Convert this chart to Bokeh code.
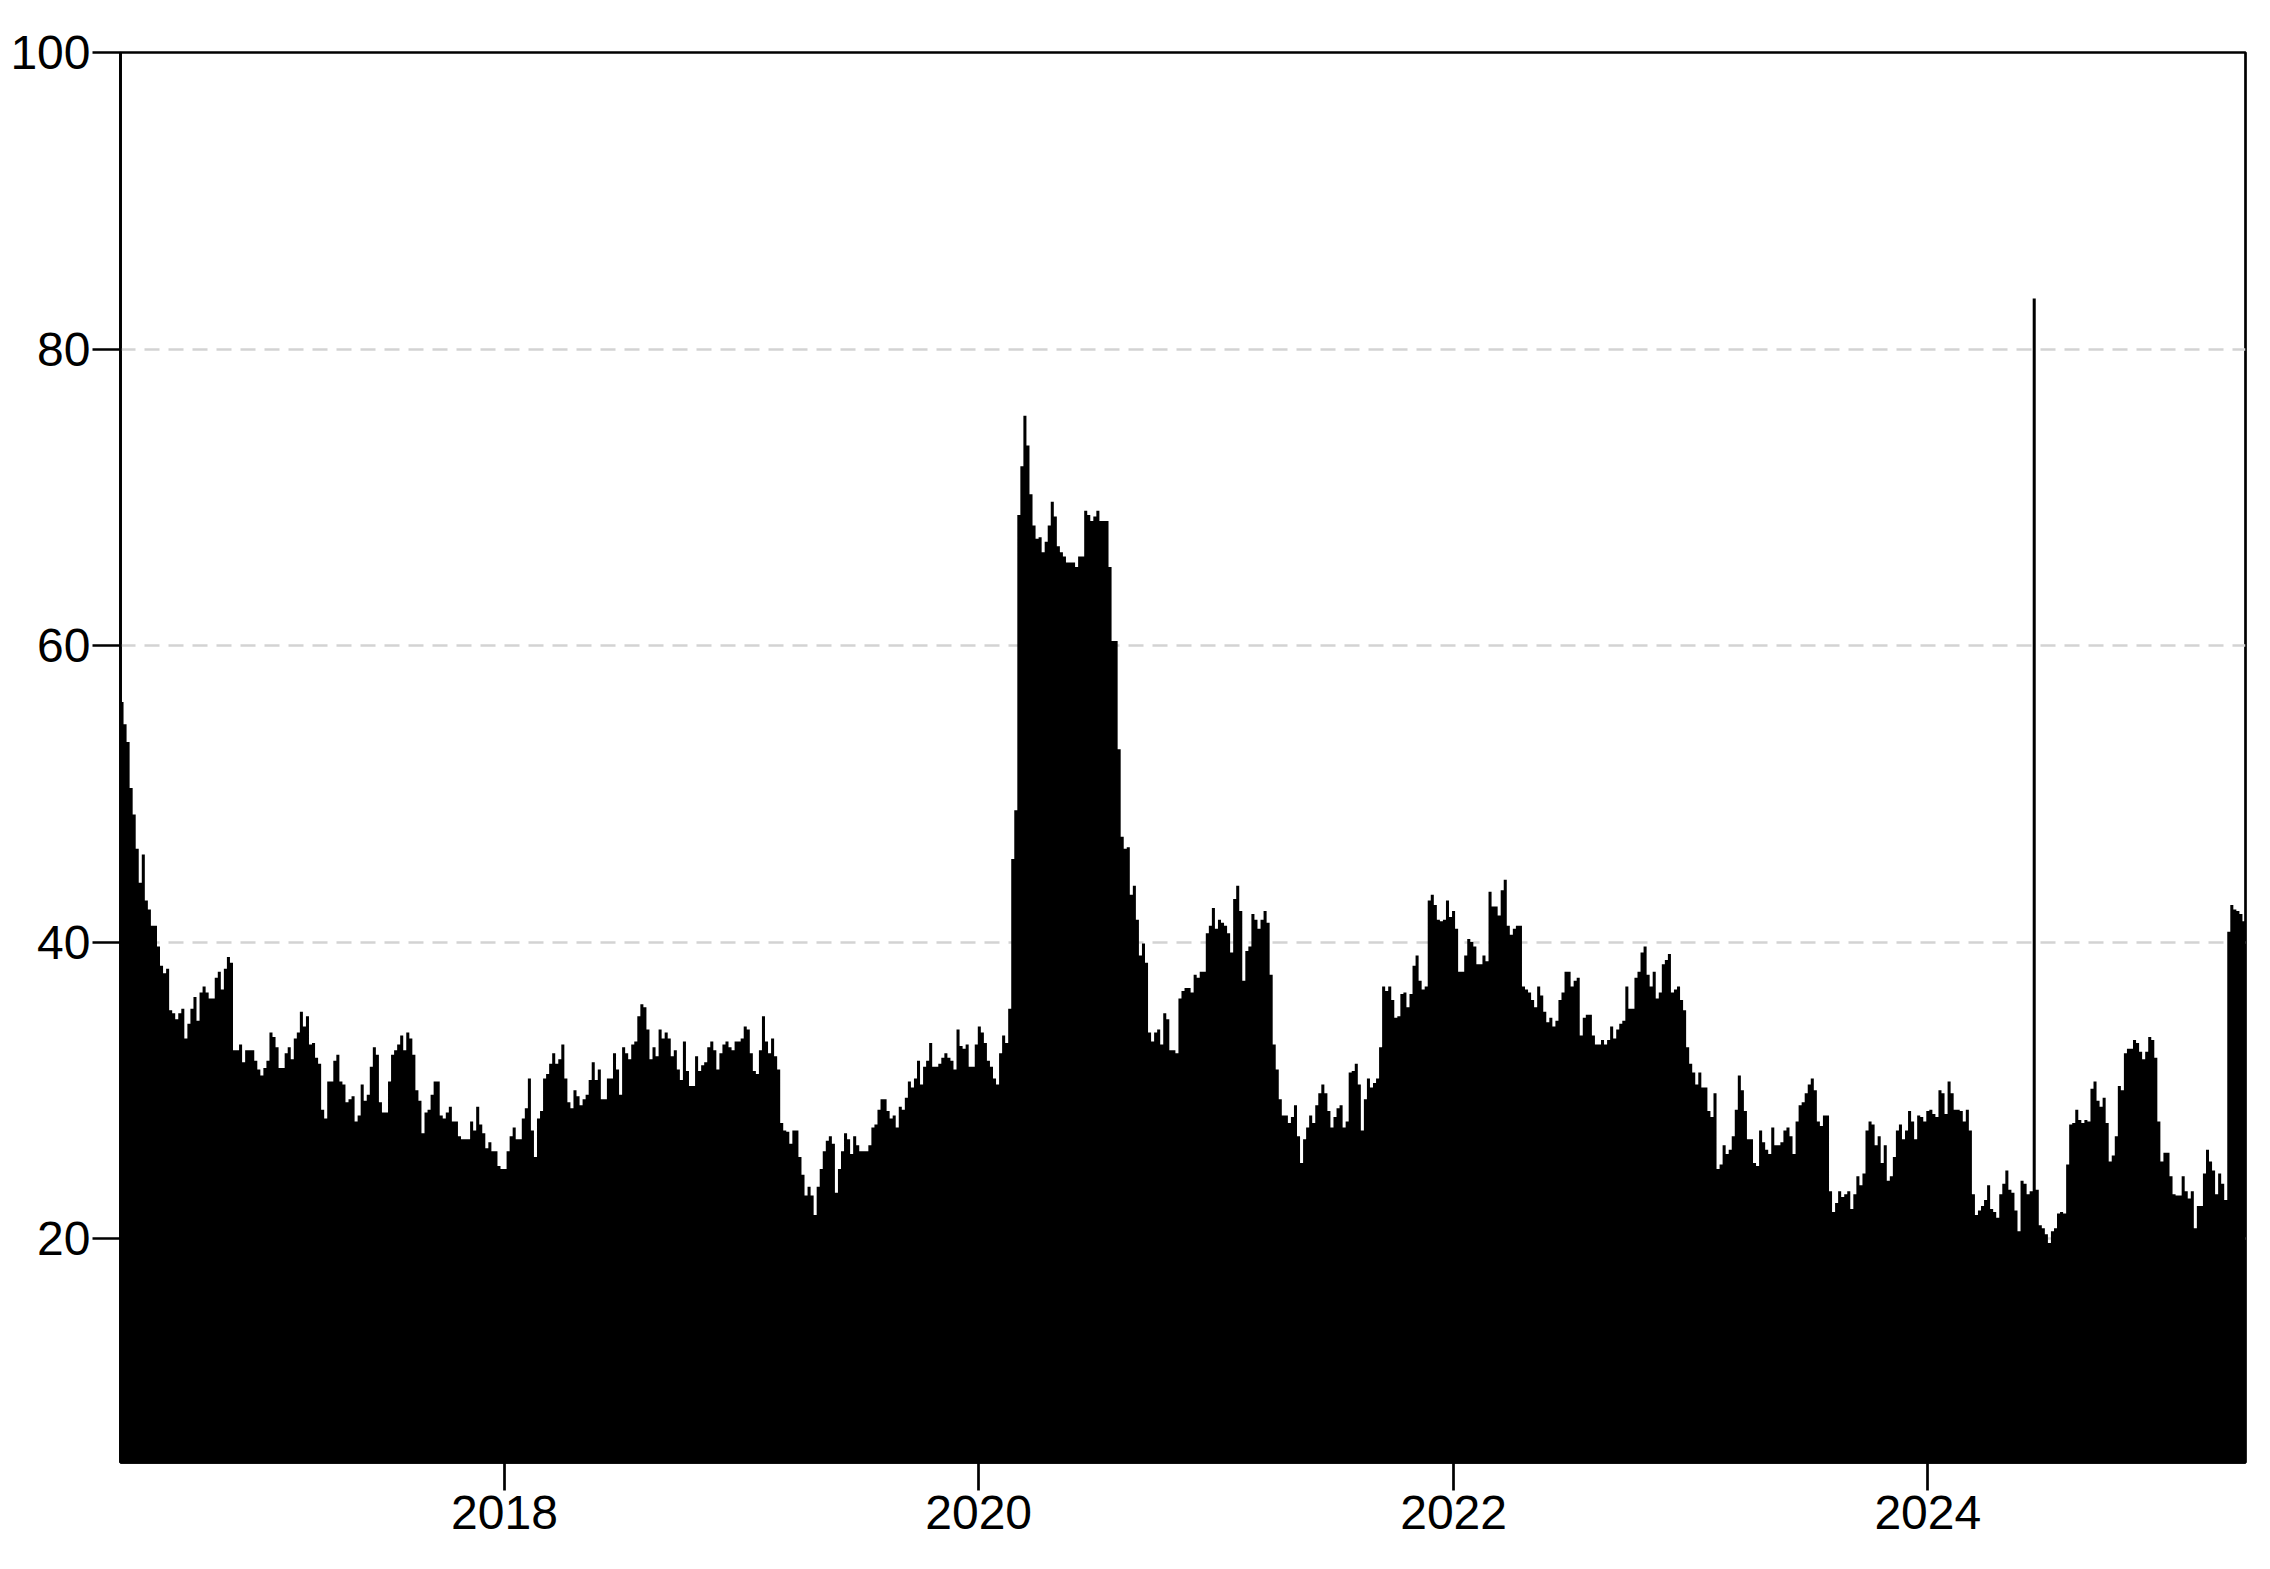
import pandas as pd
from bokeh.plotting import figure
from bokeh.models import FixedTicker, DatetimeTickFormatter, ColumnDataSource, Range1d
from bokeh.embed import file_html
from bokeh.resources import INLINE

# values, in time order (equal time steps)
vals_2016_2017 = [56.2, 54.7, 53.5, 50.4, 48.6, 46.3, 44.0, 45.9, 42.8, 42.2,
                  41.1, 41.1, 39.7, 38.4, 37.9, 38.2, 35.4, 35.2, 34.8, 35.2,
                  35.5, 33.5, 34.5, 35.5, 36.3, 34.7, 36.6, 37.0, 36.6, 36.2,
                  36.2, 37.6, 38.0, 36.8, 38.2, 39.0, 38.6, 32.7, 32.7, 33.1,
                  31.9, 32.7, 32.7, 32.7, 32.0, 31.4, 31.0, 31.5, 32.0, 33.9,
                  33.6, 32.9, 31.5, 31.5, 32.5, 32.9, 32.1, 33.5, 33.9, 35.3,
                  34.3, 35.0, 33.1, 33.2, 32.2, 31.8, 28.7, 28.1, 30.6, 30.6,
                  32.0, 32.4, 30.6, 30.4, 29.2, 29.4, 29.6, 27.9, 28.3, 30.4,
                  29.3, 29.7, 31.6, 32.9, 32.4, 29.2, 28.5, 28.5, 30.6, 32.4,
                  32.7, 33.1, 33.7, 32.7, 33.9, 33.5, 32.4, 30.0, 29.3, 27.1,
                  28.5, 28.7, 29.7, 30.6, 30.6, 28.3, 28.1, 28.5, 28.9, 27.9,
                  27.9, 26.9, 26.7, 26.7, 26.7, 27.9, 27.3, 28.9, 27.7, 27.1,
                  26.1]

vals_2017_2019 = [26.5, 25.9, 25.9, 24.9, 24.7, 24.7, 25.9, 26.9, 27.5, 26.7,
                  26.7, 28.1, 28.8, 30.8, 27.3, 25.5, 28.1, 28.6, 30.8, 31.1,
                  31.8, 32.5, 31.8, 32.1, 33.1, 30.8, 29.2, 28.8, 30.0, 29.6,
                  29.0, 29.4, 29.7, 30.7, 31.9, 30.7, 31.4, 29.4, 29.4, 30.8,
                  30.8, 32.5, 31.4, 29.7, 32.9, 32.5, 32.1, 33.1, 33.3, 35.0,
                  35.8, 35.6, 34.1, 32.1, 32.9, 32.3, 34.1, 33.5, 33.9, 33.5,
                  32.3, 32.7, 31.4, 30.7, 33.3, 31.3, 30.3, 30.3, 32.3, 31.3,
                  31.7, 31.9, 32.9, 33.3, 32.7, 31.4, 32.5, 33.1, 33.3, 32.9,
                  32.7, 33.3, 33.3, 33.5, 34.3, 34.1, 32.5, 31.3, 31.1, 32.7,
                  35.0, 33.3, 32.5, 33.5, 32.3, 31.4, 27.8, 27.3, 27.2, 26.4,
                  27.3, 27.3, 25.5, 24.3, 22.9, 23.5, 22.9, 21.6, 23.5, 24.7,
                  25.9, 26.6, 26.9, 26.4, 23.1, 24.7, 25.9, 27.1, 26.7, 25.7,
                  26.9]

vals_2019_2021 = [26.3, 25.9, 25.9, 25.9, 26.3, 27.5, 27.7, 28.7, 29.4, 29.4,
                  28.6, 28.1, 28.3, 27.5, 28.9, 28.7, 29.5, 30.6, 30.2, 30.8,
                  32.0, 30.4, 31.6, 32.0, 33.2, 31.6, 31.6, 31.8, 32.2, 32.5,
                  32.2, 32.0, 31.4, 34.1, 33.0, 32.8, 33.1, 31.6, 31.6, 33.1,
                  34.3, 33.9, 33.2, 32.0, 31.6, 30.8, 30.4, 32.5, 33.7, 33.2,
                  35.5, 45.6, 48.9, 68.8, 72.1, 75.5, 73.5, 70.2, 68.1, 67.2,
                  67.3, 66.3, 67.0, 68.1, 69.7, 68.7, 66.7, 66.3, 66.0, 65.6,
                  65.6, 65.6, 65.3, 66.0, 66.0, 69.1, 68.8, 68.4, 68.7, 69.1,
                  68.4, 68.4, 68.4, 65.3, 60.3, 60.3, 53.0, 47.1, 46.3, 46.4,
                  43.2, 43.8, 41.5, 39.1, 39.9, 38.6, 33.9, 33.3, 33.9, 34.1,
                  33.1, 35.2, 34.8, 32.7, 32.7, 32.5, 36.2, 36.7, 36.9, 36.9,
                  36.6, 37.8, 37.6, 38.0, 38.0, 40.6, 41.1, 42.3, 40.9, 41.5,
                  41.3, 41.1, 40.6]

vals_2021_2022 = [39.3, 42.9, 43.8, 42.1, 37.4, 39.4, 39.7, 41.9, 41.5, 40.9,
                  41.5, 42.1, 41.3, 37.8, 33.1, 31.4, 29.4, 28.3, 28.3, 27.8,
                  28.2, 29.0, 26.9, 25.1, 26.7, 27.5, 28.3, 27.8, 29.0, 29.8,
                  30.4, 29.8, 28.6, 27.5, 28.2, 28.8, 29.0, 27.5, 27.9, 31.2,
                  31.3, 31.8, 30.4, 27.3, 29.4, 30.8, 30.2, 30.5, 30.8, 32.9,
                  37.0, 36.7, 37.0, 36.1, 34.9, 35.0, 36.5, 36.6, 35.6, 36.5,
                  38.4, 39.1, 37.4, 36.8, 37.0, 42.8, 43.2, 42.5, 41.5, 41.4,
                  41.5, 42.8, 41.7, 42.1, 40.9, 38.0, 38.0, 39.1, 40.2, 40.0,
                  39.7, 38.5, 38.5, 39.1, 38.7, 43.4, 42.4, 42.4, 41.8, 43.5,
                  44.2, 41.1, 40.5, 40.9, 41.1, 41.1, 37.0, 36.8, 36.6, 36.1,
                  35.6, 37.0, 36.4, 35.3, 34.6, 34.9, 34.3, 34.7, 36.1, 36.6,
                  38.0, 38.0, 37.0, 37.4, 37.6, 33.7, 34.9, 35.1, 35.1, 33.7,
                  33.1, 33.1]

vals_2022_2024 = [33.4, 33.1, 33.4, 34.3, 33.5, 34.1, 34.5, 34.7, 37.0, 35.5,
                  35.5, 37.6, 38.0, 39.3, 39.7, 37.8, 37.0, 38.0, 36.2, 36.6,
                  38.5, 38.8, 39.2, 36.6, 36.8, 37.0, 36.1, 35.4, 32.9, 31.8,
                  31.2, 30.4, 31.2, 30.2, 30.2, 28.6, 28.2, 29.8, 24.7, 25.0,
                  26.3, 25.7, 26.0, 26.9, 28.7, 31.0, 30.0, 28.6, 26.7, 26.7,
                  25.1, 24.9, 27.3, 26.5, 26.0, 25.7, 27.5, 26.3, 26.3, 26.5,
                  27.3, 27.5, 26.9, 25.7, 27.9, 29.0, 29.2, 29.8, 30.4, 30.8,
                  30.0, 27.9, 27.6, 28.3, 28.3, 23.2, 21.8, 22.4, 23.2, 22.8,
                  23.0, 23.2, 22.0, 23.0, 24.2, 23.6, 24.4, 27.3, 27.9, 27.7,
                  26.3, 26.9, 25.1, 26.3, 23.9, 24.2, 25.5, 27.3, 27.7, 26.7,
                  27.3, 28.6, 27.9, 26.7, 28.3, 28.2, 27.9, 28.6, 28.7, 28.4,
                  28.2, 30.0, 29.8, 28.4, 30.6, 29.8, 28.7, 28.7, 28.6, 27.9,
                  28.7, 27.3]

vals_2024_2025 = [23.0, 21.6, 21.9, 22.2, 22.6, 23.6, 22.0, 21.8, 21.4, 23.0,
                  23.7, 24.6, 23.3, 23.1, 21.9, 20.5, 23.9, 23.7, 23.0, 23.2,
                  83.4, 23.3, 20.9, 20.7, 20.3, 19.7, 20.5, 20.7, 21.7, 21.8,
                  21.7, 25.0, 27.7, 27.8, 28.7, 28.0, 27.8, 28.0, 27.9, 30.1,
                  30.6, 29.3, 28.9, 29.5, 27.8, 25.2, 25.6, 26.9, 30.3, 30.0,
                  32.5, 32.8, 32.8, 33.4, 33.2, 32.6, 32.1, 32.6, 33.6, 33.4,
                  32.2, 27.9, 25.2, 25.8, 25.8, 24.2, 23.0, 22.9, 22.9, 24.2,
                  23.2, 22.7, 23.2, 20.7, 22.2, 22.2, 24.4, 26.0, 25.2, 24.6,
                  23.0, 24.4, 23.7, 22.6, 40.7, 42.5, 42.2, 42.1, 41.9, 41.4]

first_date = "2016-05-20"
last_date = "2025-05-04"
y_ticks = [20, 40, 60, 80, 100]
x_tick_labels = ["2018", "2020", "2022", "2024"]
y_floor = 4.9
y_top = 100

values = (vals_2016_2017 + vals_2017_2019 + vals_2019_2021 +
          vals_2021_2022 + vals_2022_2024 + vals_2024_2025)
edges = pd.date_range(first_date, last_date, periods=len(values) + 1)

src = ColumnDataSource(dict(
    x=edges,
    y=values + [values[-1]],
    base=[0.0] * (len(values) + 1),
))

p = figure(width=2262, height=1561, x_axis_type="datetime",
           output_backend="svg", toolbar_location=None,
           x_range=Range1d(edges[0], edges[-1]),
           y_range=Range1d(y_floor, y_top),
           min_border_left=120, min_border_top=52,
           min_border_right=17, min_border_bottom=99)

p.varea_step(x="x", y1="base", y2="y", step_mode="after", source=src,
             fill_color="black", fill_alpha=1.0)

p.background_fill_color = "white"
p.border_fill_color = "white"
p.outline_line_color = "black"
p.outline_line_width = 2.7

p.xgrid.grid_line_color = None
p.ygrid.grid_line_color = "#d3d3d3"
p.ygrid.grid_line_dash = "15 9"
p.ygrid.grid_line_width = 2.5

p.yaxis.ticker = FixedTicker(ticks=y_ticks)
x_tick_ms = [pd.Timestamp(f"{lab}-01-01").value / 1e6 for lab in x_tick_labels]
p.xaxis.ticker = FixedTicker(ticks=x_tick_ms)
p.xaxis.formatter = DatetimeTickFormatter(
    microseconds="%Y", milliseconds="%Y", seconds="%Y", minsec="%Y",
    minutes="%Y", hourmin="%Y", hours="%Y", days="%Y", months="%Y",
    years="%Y")

for ax in (p.xaxis[0], p.yaxis[0]):
    ax.axis_line_color = "black"
    ax.axis_line_width = 2.7
    ax.major_tick_line_color = "black"
    ax.major_tick_line_width = 2.7
    ax.major_tick_out = 28
    ax.major_tick_in = 0
    ax.minor_tick_line_color = None
    ax.major_label_text_font = "Liberation Sans"
    ax.major_label_text_font_size = "48px"
    ax.major_label_text_color = "black"

p.yaxis.major_label_standoff = 2
p.xaxis.major_label_standoff = 5

open("out.html", "w").write(file_html(p, INLINE))
